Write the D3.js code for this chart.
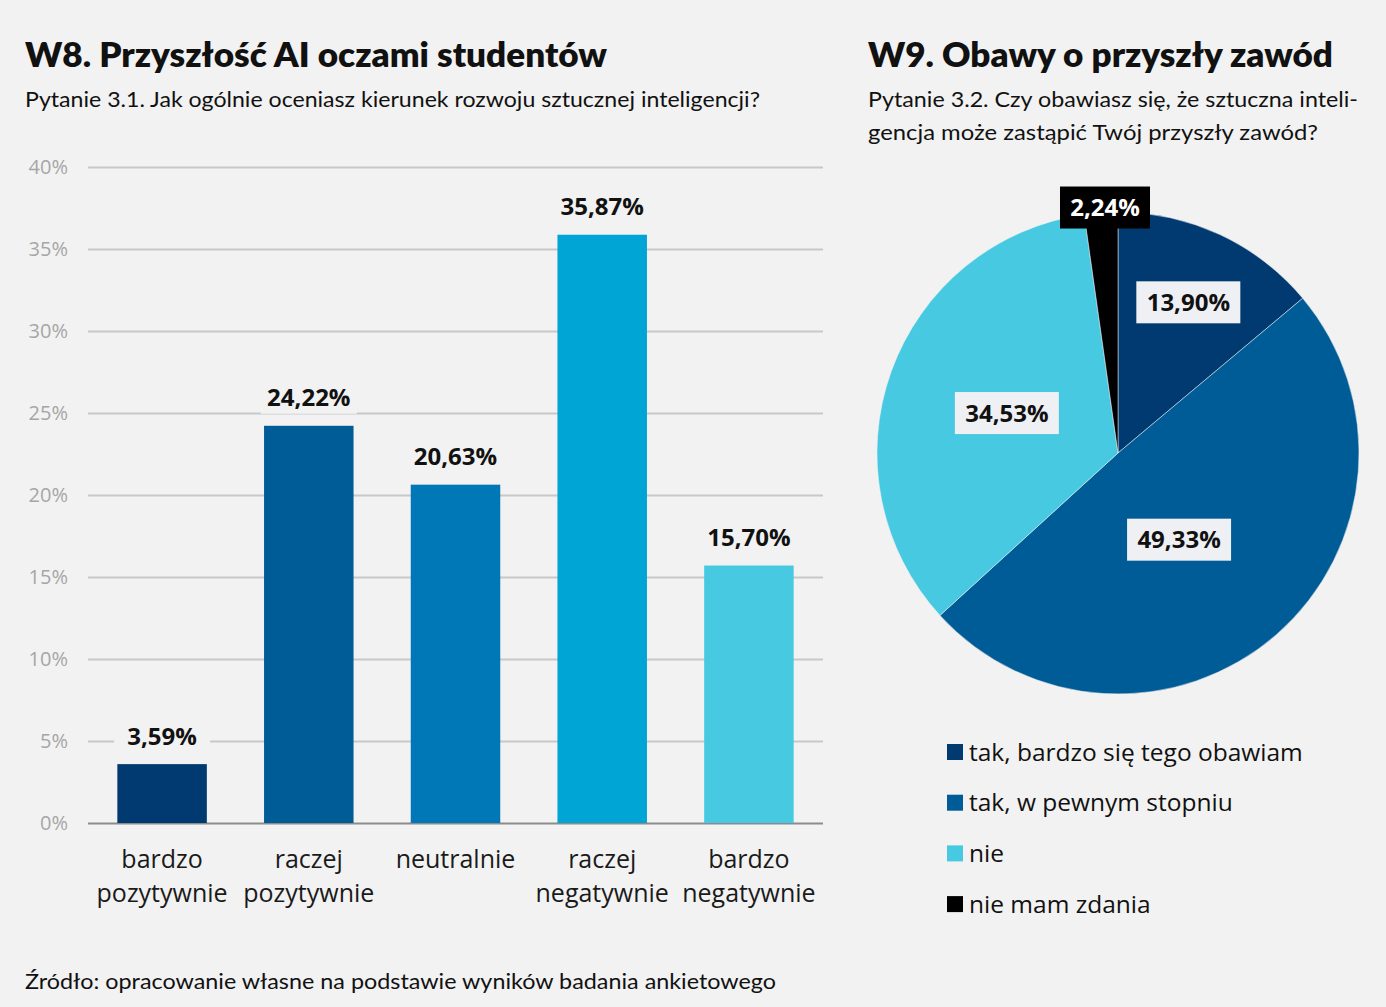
<!DOCTYPE html>
<html>
<head>
<meta charset="utf-8">
<script src="https://cdn.jsdelivr.net/npm/d3@7"></script>
<style>
  html, body { margin: 0; padding: 0; background: #f2f2f2; }
  svg { display: block; }
  text { font-family: "Open Sans", Lato, sans-serif; }
</style>
</head>
<body>
<div id="chart"></div>
<script>
// data for W8 (bars)
var barCategories = [["bardzo", "pozytywnie"], ["raczej", "pozytywnie"], ["neutralnie"], ["raczej", "negatywnie"], ["bardzo", "negatywnie"]];
var barValues = [3.59, 24.22, 20.63, 35.87, 15.70];
var barTicks = [0, 5, 10, 15, 20, 25, 30, 35, 40];

// data for W9 (pie)
var pieLabels = ["tak, bardzo się tego obawiam", "tak, w pewnym stopniu", "nie", "nie mam zdania"];
var pieValues = [13.90, 49.33, 34.53, 2.24];

var barColors = ["#003a70", "#005c97", "#0077b6", "#00a5d6", "#48c9e2"];
var pieColors = ["#003a70", "#005c97", "#48c9e2", "#000000"];
// where each pie label sits: fraction of the radius, and an angle nudge (deg)
var pieLabelR = [0.69, 0.44, 0.49, 1.02];
var pieLabelNudge = [0, 6, 0, 1];

var width = 1386, height = 1007;

var svg = d3.select("#chart").append("svg")
    .attr("width", width)
    .attr("height", height);

svg.append("rect").attr("width", width).attr("height", height).attr("fill", "#f2f2f2");

var fmt = function(v) { return v.toFixed(2).replace(".", ",") + "%"; };

// headings
function heading(x, y, txt, len, size, weight) {
  svg.append("text")
    .attr("x", x).attr("y", y)
    .attr("textLength", len)
    .attr("lengthAdjust", "spacingAndGlyphs")
    .style("font-family", "Lato, sans-serif")
    .style("font-size", size + "px")
    .style("font-weight", weight)
    .attr("fill", "#111")
    .text(txt);
}
heading(25, 67, "W8. Przyszłość AI oczami studentów", 582, 33, 800);
heading(25, 107, "Pytanie 3.1. Jak ogólnie oceniasz kierunek rozwoju sztucznej inteligencji?", 735, 22, 400);
heading(868, 67, "W9. Obawy o przyszły zawód", 465, 33, 800);
heading(868, 107, "Pytanie 3.2. Czy obawiasz się, że sztuczna inteli-", 490, 22, 400);
heading(868, 140, "gencja może zastąpić Twój przyszły zawód?", 450, 22, 400);
heading(25, 989, "Źródło: opracowanie własne na podstawie wyników badania ankietowego", 751, 22, 400);

// ---- bar chart ----
var x = d3.scaleBand()
    .domain(d3.range(barValues.length))
    .range([88, 823])
    .paddingInner(0.39)
    .paddingOuter(0.2);

var y = d3.scaleLinear()
    .domain([0, 40])
    .range([823, 167]);

var yAxis = svg.append("g")
    .attr("transform", "translate(88,0)")
    .call(d3.axisLeft(y).tickValues(barTicks).tickSize(-735).tickFormat(function(d) { return d + "%"; }));
yAxis.select(".domain").remove();
yAxis.selectAll(".tick line").attr("stroke", "#c8c8c8").attr("stroke-width", 2);
yAxis.selectAll(".tick text")
    .attr("x", -20)
    .attr("fill", "#a6a6a6")
    .style("font-size", "20px")
    .style("font-family", "'Open Sans', sans-serif");
yAxis.selectAll(".tick").filter(function(d) { return d === 0; }).select("line").attr("stroke", "#8c8c8c");

svg.selectAll(".bar")
    .data(barValues)
    .enter().append("rect")
    .attr("class", "bar")
    .attr("x", function(d, i) { return x(i); })
    .attr("y", function(d) { return y(d); })
    .attr("width", x.bandwidth())
    .attr("height", function(d) { return y(0) - y(d); })
    .attr("fill", function(d, i) { return barColors[i]; });

var valLabels = svg.selectAll(".val")
    .data(barValues)
    .enter().append("g")
    .attr("class", "val")
    .attr("transform", function(d, i) { return "translate(" + (x(i) + x.bandwidth() / 2) + "," + (y(d) - 28) + ")"; });
valLabels.append("rect")
    .attr("x", -48).attr("y", -16).attr("width", 96).attr("height", 32)
    .attr("fill", "#f2f2f2");
valLabels.append("text")
    .attr("text-anchor", "middle")
    .attr("dy", "0.35em")
    .style("font-size", "24px")
    .style("font-weight", 700)
    .attr("fill", "#111")
    .text(fmt);

svg.selectAll(".cat")
    .data(barCategories)
    .enter().append("text")
    .attr("class", "cat")
    .attr("text-anchor", "middle")
    .attr("x", function(d, i) { return x(i) + x.bandwidth() / 2; })
    .attr("y", 868)
    .style("font-size", "25px")
    .attr("fill", "#1a1a1a")
    .each(function(d) {
      var t = d3.select(this);
      d.forEach(function(line, k) {
        t.append("tspan")
          .attr("x", t.attr("x"))
          .attr("dy", k === 0 ? 0 : 34)
          .text(line);
      });
    });

// ---- pie chart ----
var cx = 1118, cy = 453, R = 241;
var pie = d3.pie().sort(null).value(function(d) { return d; });
var arc = d3.arc().innerRadius(0).outerRadius(R);
var arcs = pie(pieValues);

var gp = svg.append("g").attr("transform", "translate(" + cx + "," + cy + ")");
gp.selectAll("path")
    .data(arcs)
    .enter().append("path")
    .attr("d", arc)
    .attr("fill", function(d, i) { return pieColors[i]; })
    .attr("stroke", "#f2f2f2")
    .attr("stroke-width", 0.5);

var pl = gp.selectAll(".plab")
    .data(arcs)
    .enter().append("g")
    .attr("class", "plab")
    .attr("transform", function(d, i) {
      var a = (d.startAngle + d.endAngle) / 2 + pieLabelNudge[i] * Math.PI / 180, r = R * pieLabelR[i];
      return "translate(" + (Math.sin(a) * r) + "," + (-Math.cos(a) * r) + ")";
    });
pl.append("rect")
    .attr("x", -52).attr("y", -21).attr("width", 104).attr("height", 42)
    .attr("fill", function(d, i) { return i === 3 ? "#000" : "#eef0f4"; });
pl.filter(function(d, i) { return i === 3; }).select("rect")
    .attr("x", -45).attr("width", 90);
pl.append("text")
    .attr("text-anchor", "middle")
    .attr("dy", "0.36em")
    .style("font-size", "24px")
    .style("font-weight", 700)
    .attr("fill", function(d, i) { return i === 3 ? "#fff" : "#111"; })
    .text(function(d) { return fmt(d.value); });

// legend
var lg = svg.selectAll(".leg")
    .data(pieLabels)
    .enter().append("g")
    .attr("class", "leg")
    .attr("transform", function(d, i) { return "translate(947," + (752 + i * 50.7) + ")"; });
lg.append("rect")
    .attr("x", 0).attr("y", -8).attr("width", 16).attr("height", 16)
    .attr("fill", function(d, i) { return pieColors[i]; });
lg.append("text")
    .attr("x", 22)
    .attr("dy", "0.35em")
    .style("font-size", "24.5px")
    .attr("fill", "#111")
    .text(function(d) { return d; });
</script>
</body>
</html>
